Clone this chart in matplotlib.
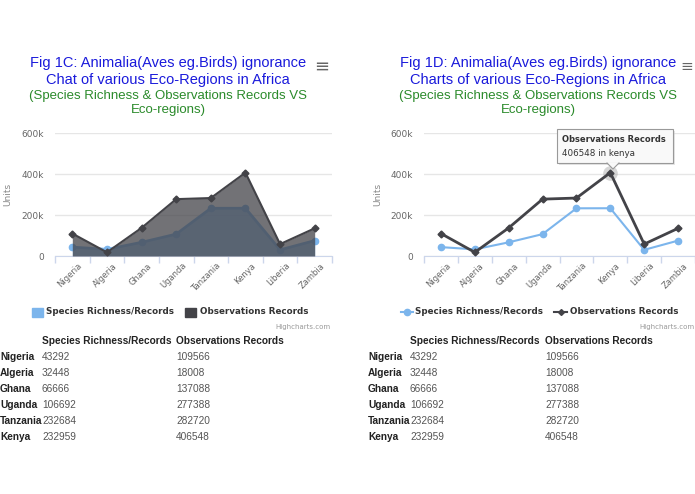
import matplotlib
matplotlib.use("Agg")
from matplotlib import pyplot as plt
from matplotlib.patches import Rectangle, Polygon
import numpy as np

# data
countries = ["Nigeria", "Algeria", "Ghana", "Uganda", "Tanzania", "Kenya", "Liberia", "Zambia"]
species = [43292, 32448, 66666, 106692, 232684, 232959, 30000, 75000]
observations = [109566, 18008, 137088, 277388, 282720, 406548, 58000, 135000]
yticks = [0, 200000, 400000, 600000]
ytick_labels = ["0", "200k", "400k", "600k"]
table_rows = 6

W, H = 695, 494
BLUE = "#7cb5ec"
DARK = "#434348"

fig = plt.figure(figsize=(W / 100, H / 100), dpi=100)


def fx(x):
    return x / W


def fy(y):
    return 1 - y / H


def add_chart(left, right, xmax, area, label_x):
    top, bottom = 133, 256
    ax = fig.add_axes([fx(left), fy(bottom), fx(right - left), (bottom - top) / H])
    x = np.arange(len(countries))
    if area:
        ax.fill_between(x, species, color=BLUE, alpha=0.75, lw=0, zorder=2)
        ax.plot(x, species, color=BLUE, lw=2, marker="o", ms=4.5, zorder=2, clip_on=False)
        ax.fill_between(x, observations, color=DARK, alpha=0.75, lw=0, zorder=3)
        ax.plot(x, observations, color=DARK, lw=1.5, marker="D", ms=3.5, zorder=4, clip_on=False)
    else:
        ax.plot(x, species, color=BLUE, lw=1.5, marker="o", ms=4.5, zorder=3, clip_on=False)
        ax.plot(x, observations, color=DARK, lw=2, marker="D", ms=3.5, zorder=4, clip_on=False)
    ax.set_xlim(-0.5, xmax)
    ax.set_ylim(0, 600000)
    ax.set_yticks(yticks)
    ax.set_yticklabels(ytick_labels, fontsize=6.5, color="#666666")
    ax.tick_params(axis="y", length=0, pad=8)
    ax.grid(axis="y", color="#e6e6e6", lw=1, zorder=0)
    ax.set_xticks(np.arange(len(countries) + 1) - 0.5, minor=False)
    ax.set_xticklabels([])
    ax.tick_params(axis="x", length=5, color="#ccd6eb", width=1)
    for i, c in enumerate(countries):
        ax.text(i + 0.15, -25000, c, rotation=45, ha="right", va="top",
                fontsize=6, color="#666666", rotation_mode="anchor")
    for s in ["top", "right", "left"]:
        ax.spines[s].set_visible(False)
    ax.spines["bottom"].set_color("#ccd6eb")
    ax.set_ylabel("Units", fontsize=6.5, color="#888888")
    ax.yaxis.set_label_coords((label_x - left) / (right - left), 0.5)
    return ax


def titles(cx, line1, line2):
    fig.text(fx(cx), fy(63), line1, ha="center", va="center", fontsize=10.5,
             color="#1a1adb", family="Liberation Sans")
    fig.text(fx(cx), fy(80), line2, ha="center", va="center", fontsize=10.5,
             color="#1a1adb", family="Liberation Sans")
    fig.text(fx(cx), fy(96), "(Species Richness & Observations Records VS",
             ha="center", va="center", fontsize=9.5, color="#2a8a2a", family="Liberation Sans")
    fig.text(fx(cx), fy(110), "Eco-regions)", ha="center", va="center", fontsize=9.5,
             color="#2a8a2a", family="Liberation Sans")


def table(x0, x1, x2):
    fig.text(fx(x1), fy(341), "Species Richness/Records", fontsize=7.3, weight="bold",
             color="#222222", va="center", family="Liberation Sans")
    fig.text(fx(x2), fy(341), "Observations Records", fontsize=7.3, weight="bold",
             color="#222222", va="center", family="Liberation Sans")
    for i in range(table_rows):
        y = fy(357 + i * 16)
        fig.text(fx(x0), y, countries[i], fontsize=7.3, weight="bold", color="#222222",
                 va="center", family="Liberation Sans")
        fig.text(fx(x1), y, str(species[i]), fontsize=7.3, color="#555555",
                 va="center", family="Liberation Sans")
        fig.text(fx(x2), y, str(observations[i]), fontsize=7.3, color="#555555",
                 va="center", family="Liberation Sans")


# left chart (area)
axl = add_chart(55, 332, 7.5, True, 12)
titles(168, "Fig 1C: Animalia(Aves eg.Birds) ignorance", "Chat of various Eco-Regions in Africa")
fig.text(fx(322), fy(67), "≡", fontsize=13, color="#666666", ha="center", va="center")
fig.patches.append(Rectangle((fx(32), fy(317)), fx(11), 9 / H, color=BLUE, transform=fig.transFigure))
fig.text(fx(46), fy(312), "Species Richness/Records", fontsize=6.3, weight="bold", color="#333333", va="center")
fig.patches.append(Rectangle((fx(185), fy(317)), fx(11), 9 / H, color=DARK, transform=fig.transFigure))
fig.text(fx(200), fy(312), "Observations Records", fontsize=6.3, weight="bold", color="#333333", va="center")
fig.text(fx(331), fy(327), "Highcharts.com", fontsize=5, color="#999999", ha="right", va="center")
table(0, 42, 176)

# right chart (lines)
axr = add_chart(424, 695, 7.5 - 4 / 34.4, False, 382)
axr.scatter([5], [observations[5]], s=110, color="#999999", alpha=0.4, lw=0, zorder=3, clip_on=False)
titles(538, "Fig 1D: Animalia(Aves eg.Birds) ignorance", "Charts of various Eco-Regions in Africa")
fig.text(fx(687), fy(67), "≡", fontsize=11, color="#666666", ha="center", va="center")
fig.lines.append(plt.Line2D([fx(401), fx(413)], [fy(312), fy(312)], color=BLUE, lw=1.5,
                            transform=fig.transFigure))
fig.lines.append(plt.Line2D([fx(407)], [fy(312)], color=BLUE, marker="o", ms=4.5,
                            transform=fig.transFigure))
fig.text(fx(415), fy(312), "Species Richness/Records", fontsize=6.3, weight="bold", color="#333333", va="center")
fig.lines.append(plt.Line2D([fx(554), fx(567)], [fy(312), fy(312)], color=DARK, lw=1.5,
                            transform=fig.transFigure))
fig.lines.append(plt.Line2D([fx(560.5)], [fy(312)], color=DARK, marker="D", ms=3,
                            transform=fig.transFigure))
fig.text(fx(570), fy(312), "Observations Records", fontsize=6.3, weight="bold", color="#333333", va="center")
fig.text(fx(694), fy(327), "Highcharts.com", fontsize=5, color="#999999", ha="right", va="center")
table(368, 410, 545)

# tooltip on kenya
fig.patches.append(Rectangle((fx(559), fy(165)), fx(116), 34 / H, facecolor="#cccccc",
                             edgecolor="none", alpha=0.5, transform=fig.transFigure))
fig.patches.append(Rectangle((fx(557), fy(163)), fx(116), 34 / H, facecolor="#f9f9f9",
                             edgecolor="#999999", lw=0.8, transform=fig.transFigure))
fig.patches.append(Polygon([(fx(607), fy(162.6)), (fx(619), fy(162.6)), (fx(613), fy(169))],
                           closed=True, facecolor="#f9f9f9", edgecolor="none",
                           transform=fig.transFigure))
fig.lines.append(plt.Line2D([fx(607), fx(613), fx(619)], [fy(163), fy(169), fy(163)],
                            color="#999999", lw=0.8, transform=fig.transFigure))
fig.text(fx(562), fy(140), "Observations Records", fontsize=6, weight="bold", color="#333333", va="center")
fig.text(fx(562), fy(153), "406548 in kenya", fontsize=6.3, color="#333333", va="center")

fig.savefig("out.png", dpi=100)
